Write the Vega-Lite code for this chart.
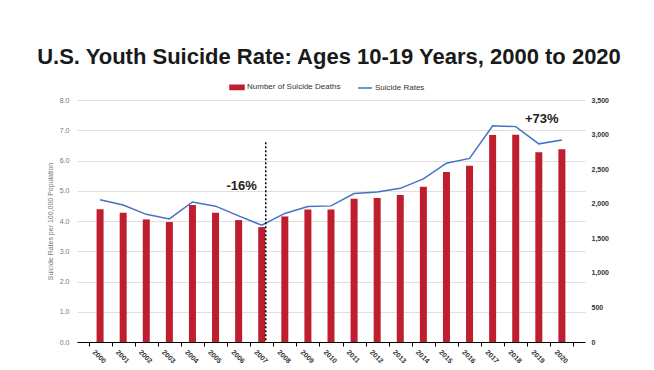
{
  "$schema": "https://vega.github.io/schema/vega-lite/v6.json",
  "width": 508,
  "height": 242,
  "autosize": {"type": "none"},
  "padding": {"left": 77, "top": 100, "right": 69, "bottom": 28},
  "background": "white",
  "title": {
    "text": "U.S. Youth Suicide Rate: Ages 10-19 Years, 2000 to 2020",
    "font": "Liberation Sans",
    "fontSize": 22,
    "fontWeight": "bold",
    "color": "#1a1a1a",
    "anchor": "middle",
    "dx": -2,
    "offset": 10
  },
  "config": {
    "font": "Liberation Sans",
    "view": {"stroke": null}
  },
  "data": {
    "values": [
      {"year": "2000", "deaths": 1920, "rate": 4.70},
      {"year": "2001", "deaths": 1870, "rate": 4.53},
      {"year": "2002", "deaths": 1773, "rate": 4.22},
      {"year": "2003", "deaths": 1735, "rate": 4.07},
      {"year": "2004", "deaths": 1980, "rate": 4.63},
      {"year": "2005", "deaths": 1870, "rate": 4.49},
      {"year": "2006", "deaths": 1763, "rate": 4.17},
      {"year": "2007", "deaths": 1662, "rate": 3.86},
      {"year": "2008", "deaths": 1816, "rate": 4.25},
      {"year": "2009", "deaths": 1918, "rate": 4.48},
      {"year": "2010", "deaths": 1918, "rate": 4.50},
      {"year": "2011", "deaths": 2072, "rate": 4.91},
      {"year": "2012", "deaths": 2082, "rate": 4.96},
      {"year": "2013", "deaths": 2125, "rate": 5.08},
      {"year": "2014", "deaths": 2245, "rate": 5.39},
      {"year": "2015", "deaths": 2458, "rate": 5.91},
      {"year": "2016", "deaths": 2550, "rate": 6.07},
      {"year": "2017", "deaths": 2994, "rate": 7.15},
      {"year": "2018", "deaths": 2996, "rate": 7.12},
      {"year": "2019", "deaths": 2745, "rate": 6.55},
      {"year": "2020", "deaths": 2787, "rate": 6.68}
    ]
  },
  "encoding": {
    "x": {
      "field": "year",
      "type": "ordinal",
      "scale": {"paddingInner": 0, "paddingOuter": 0.5},
      "axis": {
        "title": null,
        "labelAngle": 45,
        "labelAlign": "left",
        "labelBaseline": "top",
        "labelFontSize": 7,
        "labelFontWeight": "bold",
        "labelColor": "#333333",
        "labelPadding": 2,
        "labelOffset": -4,
        "domainColor": "#000000",
        "tickColor": "#000000",
        "tickSize": 4,
        "tickBand": "extent",
        "grid": false
      }
    }
  },
  "layer": [
    {
      "mark": {"type": "bar", "size": 7},
      "encoding": {
        "y": {
          "field": "deaths",
          "type": "quantitative",
          "scale": {"domain": [0, 3500]},
          "axis": {
            "orient": "right",
            "title": null,
            "values": [0, 500, 1000, 1500, 2000, 2500, 3000, 3500],
            "format": ",d",
            "labelFontSize": 7,
            "labelFontWeight": "bold",
            "labelColor": "#333333",
            "labelPadding": 6,
            "domain": false,
            "ticks": false,
            "grid": false
          }
        },
        "color": {
          "datum": "Number of Suicide Deaths",
          "scale": {
            "domain": ["Number of Suicide Deaths", "Suicide Rates"],
            "range": ["#BE1E2D", "#4472C4"]
          },
          "legend": {
            "title": null,
            "orient": "none",
            "direction": "horizontal",
            "legendX": 152,
            "legendY": -21,
            "labelFontSize": 8,
            "labelColor": "#333333",
            "columnPadding": 14,
            "symbolSize": 196,
            "labelOffset": 2,
            "encode": {
              "symbols": {
                "update": {
                  "shape": {"signal": "datum.value === 'Suicide Rates' ? 'M-1,0H1' : 'M-1,-0.3H1V0.3H-1Z'"},
                  "fill": {"signal": "datum.value === 'Suicide Rates' ? 'transparent' : '#BE1E2D'"},
                  "stroke": {"signal": "datum.value === 'Suicide Rates' ? '#4472C4' : 'transparent'"},
                  "strokeWidth": {"value": 1.5},
                  "opacity": {"value": 1}
                }
              }
            }
          }
        }
      }
    },
    {
      "mark": {"type": "line", "strokeWidth": 1.5},
      "encoding": {
        "y": {
          "field": "rate",
          "type": "quantitative",
          "scale": {"domain": [0, 8]},
          "axis": {
            "orient": "left",
            "title": "Suicide Rates per 100,000 Population",
            "titleFontSize": 7,
            "titleFontWeight": "normal",
            "titleColor": "#777777",
            "titlePadding": 6,
            "values": [0, 1, 2, 3, 4, 5, 6, 7, 8],
            "format": ".1f",
            "labelFontSize": 7,
            "labelColor": "#777777",
            "labelPadding": 8,
            "domain": false,
            "ticks": false,
            "grid": true,
            "gridColor": "#e0e0e0",
            "gridWidth": 1
          }
        },
        "color": {"datum": "Suicide Rates"}
      }
    },
    {
      "data": {"values": [{"year": "2007", "top": 6.6, "bottom": 0}]},
      "mark": {"type": "rule", "color": "#000000", "strokeDash": [2, 2], "strokeWidth": 1.5, "xOffset": 4},
      "encoding": {
        "y": {"field": "top", "type": "quantitative", "scale": {"domain": [0, 8]}, "axis": null},
        "y2": {"field": "bottom"}
      }
    },
    {
      "data": {"values": [{"year": "2006", "rate": 5.15, "label": "-16%"}, {"year": "2019", "rate": 7.37, "label": "+73%"}]},
      "mark": {"type": "text", "fontSize": 13, "fontWeight": "bold", "color": "#222222", "dx": 3},
      "encoding": {
        "y": {"field": "rate", "type": "quantitative", "scale": {"domain": [0, 8]}, "axis": null},
        "text": {"field": "label"}
      }
    }
  ],
  "resolve": {"scale": {"y": "independent"}}
}
